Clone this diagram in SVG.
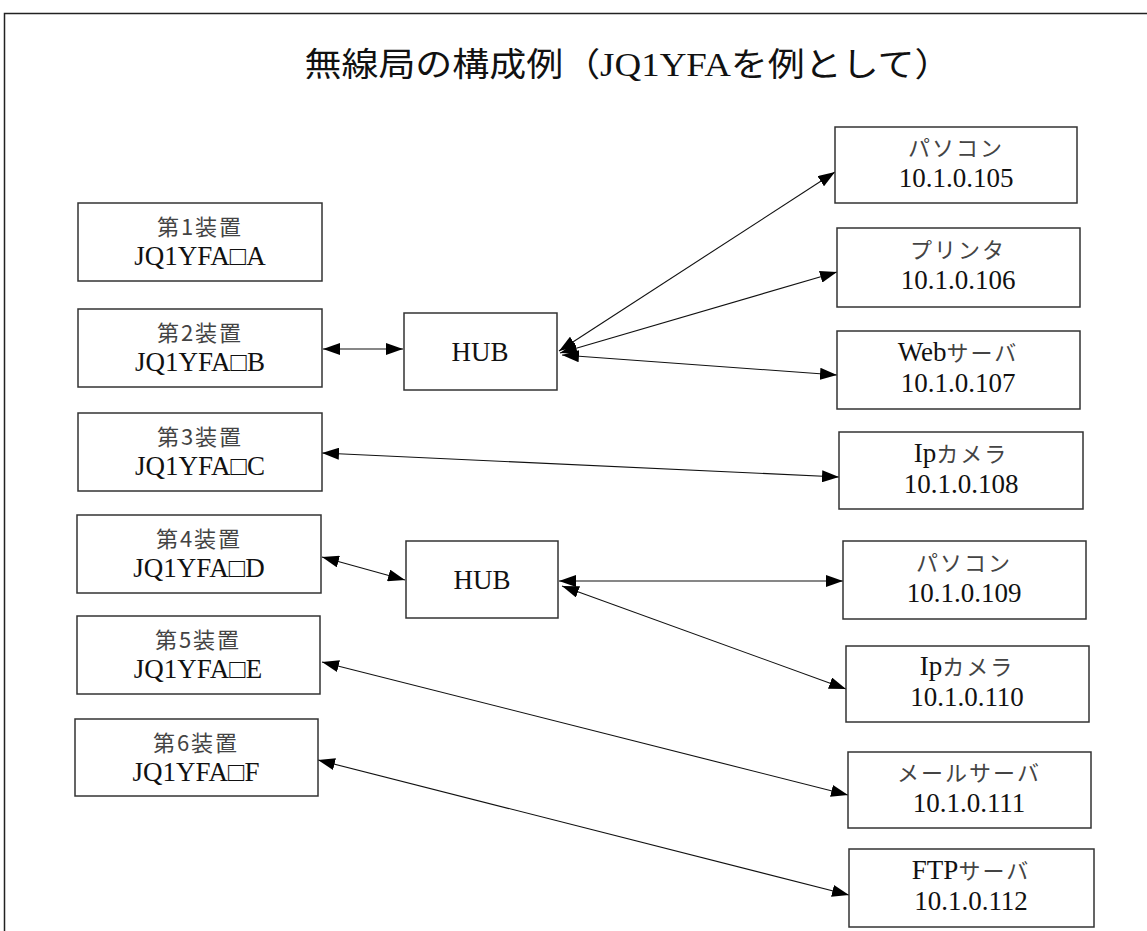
<svg xmlns="http://www.w3.org/2000/svg" width="1147" height="931" viewBox="0 0 1147 931">
<style>
.box{fill:#fff;stroke:#333;stroke-width:1.5}
.jp{font-family:"Noto Sans CJK JP","Noto Sans CJK SC",sans-serif;font-size:22px;fill:#444;letter-spacing:2px}
.en{font-family:"Liberation Serif","Times New Roman",serif;font-size:27px;fill:#111;letter-spacing:0}
.tl{font-family:"Noto Sans CJK JP","Noto Sans CJK SC",sans-serif;font-size:33px;fill:#111}
.ln{stroke:#111;stroke-width:1.1;fill:none;marker-start:url(#ah);marker-end:url(#ah)}
text{text-anchor:middle}
</style>
<defs>
<marker id="ah" markerUnits="userSpaceOnUse" markerWidth="18" markerHeight="12" refX="17" refY="6" orient="auto-start-reverse" viewBox="0 0 18 12">
<path d="M0,0 L17,6 L0,12 z" fill="#000"/>
</marker>
</defs>
<rect x="4.5" y="13.5" width="1200" height="1000" fill="#fff" stroke="#222" stroke-width="1.5"/>
<text class="tl" x="628" y="76" textLength="647" lengthAdjust="spacingAndGlyphs">無線局の構成例（<tspan font-family="Liberation Serif,serif">JQ1YFA</tspan>を例として）</text>

<g id="connectors">
<line class="ln" x1="323" y1="349" x2="403" y2="349"/>
<line class="ln" x1="559" y1="351" x2="835" y2="172"/>
<line class="ln" x1="560" y1="353" x2="837" y2="272"/>
<line class="ln" x1="562" y1="355" x2="837" y2="375"/>
<line class="ln" x1="322" y1="453" x2="839" y2="477"/>
<line class="ln" x1="322" y1="557" x2="405" y2="580"/>
<line class="ln" x1="559" y1="581" x2="843" y2="581"/>
<line class="ln" x1="562" y1="586" x2="846" y2="689"/>
<line class="ln" x1="322" y1="662" x2="848" y2="795"/>
<line class="ln" x1="318" y1="760" x2="849" y2="895"/>
</g>

<g id="dev1"><rect class="box" x="78" y="203" width="244" height="78"/><text class="jp" x="200" y="235">第1装置</text><text class="en" x="200" y="265">JQ1YFA□A</text></g>
<g id="dev2"><rect class="box" x="78" y="309" width="244" height="78"/><text class="jp" x="200" y="341">第2装置</text><text class="en" x="200" y="371">JQ1YFA□B</text></g>
<g id="dev3"><rect class="box" x="78" y="413" width="244" height="78"/><text class="jp" x="200" y="445">第3装置</text><text class="en" x="200" y="475">JQ1YFA□C</text></g>
<g id="dev4"><rect class="box" x="77" y="515" width="244" height="78"/><text class="jp" x="199" y="547">第4装置</text><text class="en" x="199" y="577">JQ1YFA□D</text></g>
<g id="dev5"><rect class="box" x="77" y="616" width="243" height="78"/><text class="jp" x="198" y="648">第5装置</text><text class="en" x="198" y="678">JQ1YFA□E</text></g>
<g id="dev6"><rect class="box" x="75" y="719" width="243" height="77"/><text class="jp" x="196" y="751">第6装置</text><text class="en" x="196" y="781">JQ1YFA□F</text></g>

<g id="hub1"><rect class="box" x="404" y="313" width="153" height="77"/><text class="en" x="480" y="361">HUB</text></g>
<g id="hub2"><rect class="box" x="406" y="541" width="152" height="77"/><text class="en" x="482" y="589">HUB</text></g>

<g id="pc105"><rect class="box" x="835" y="127" width="242" height="76"/><text class="jp" x="956" y="156">パソコン</text><text class="en" x="956" y="187">10.1.0.105</text></g>
<g id="printer106"><rect class="box" x="837" y="228" width="243" height="79"/><text class="jp" x="958" y="258">プリンタ</text><text class="en" x="958" y="289">10.1.0.106</text></g>
<g id="web107"><rect class="box" x="837" y="331" width="243" height="78"/><text class="jp" x="958" y="361"><tspan class="en">Web</tspan>サーバ</text><text class="en" x="958" y="392">10.1.0.107</text></g>
<g id="cam108"><rect class="box" x="839" y="432" width="244" height="77"/><text class="jp" x="961" y="462"><tspan class="en">Ip</tspan>カメラ</text><text class="en" x="961" y="493">10.1.0.108</text></g>
<g id="pc109"><rect class="box" x="843" y="541" width="243" height="78"/><text class="jp" x="964" y="571">パソコン</text><text class="en" x="964" y="602">10.1.0.109</text></g>
<g id="cam110"><rect class="box" x="846" y="646" width="243" height="76"/><text class="jp" x="967" y="675"><tspan class="en">Ip</tspan>カメラ</text><text class="en" x="967" y="706">10.1.0.110</text></g>
<g id="mail111"><rect class="box" x="848" y="752" width="243" height="76"/><text class="jp" x="969" y="781">メールサーバ</text><text class="en" x="969" y="812">10.1.0.111</text></g>
<g id="ftp112"><rect class="box" x="849" y="849" width="245" height="78"/><text class="jp" x="971" y="879"><tspan class="en">FTP</tspan>サーバ</text><text class="en" x="971" y="910">10.1.0.112</text></g>
</svg>
